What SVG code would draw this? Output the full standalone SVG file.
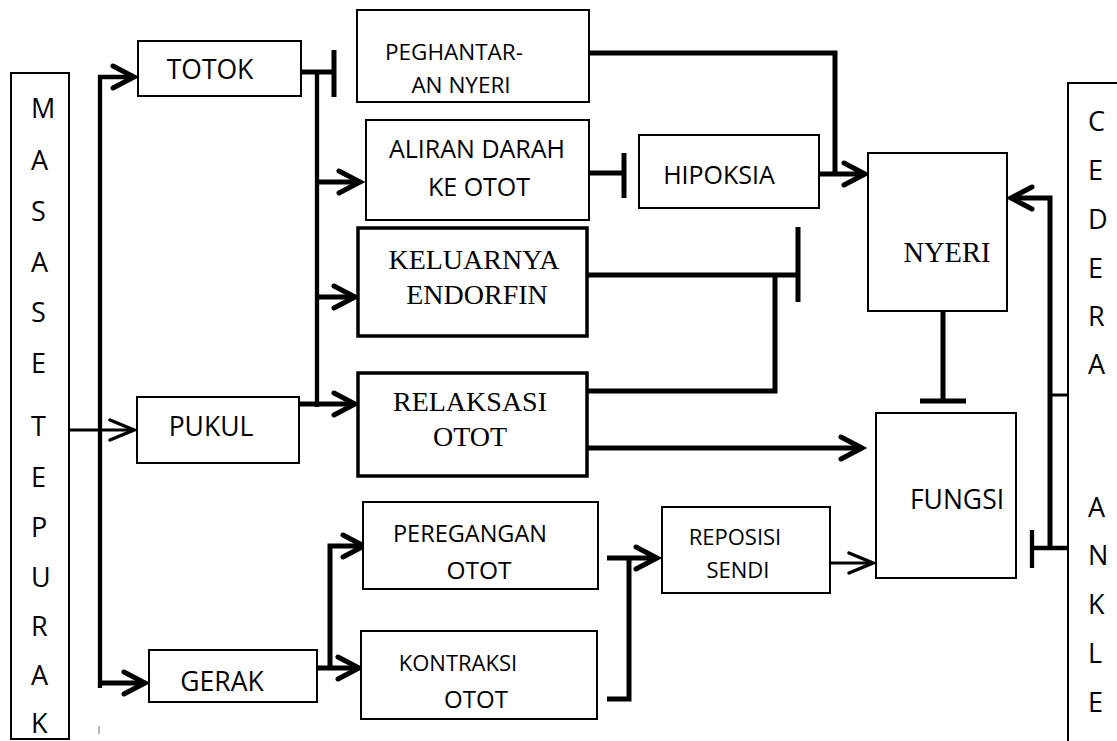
<svg xmlns="http://www.w3.org/2000/svg" width="1117" height="741" viewBox="0 0 1117 741">
<style>
.box{fill:#fff;stroke:#000;stroke-width:2}
.bold{fill:#fff;stroke:#000;stroke-width:3.5}
.sans{font-family:"Open Sans","Liberation Sans",sans-serif;fill:#000;text-anchor:middle}
.serif{font-family:"Liberation Serif","Times New Roman",serif;fill:#000;text-anchor:middle}
.col{font-family:"Open Sans","Liberation Sans",sans-serif;font-size:27px;fill:#000}
.c5{fill:none;stroke:#000;stroke-width:5}
.c4{fill:none;stroke:#000;stroke-width:4.3}
.c3{fill:none;stroke:#000;stroke-width:3}
.ah5{marker-end:url(#ahk)}
.ah3{marker-end:url(#aht)}
</style>
<defs>
<marker id="ahk" markerUnits="userSpaceOnUse" viewBox="-30 -20 40 40" refX="0" refY="0" markerWidth="40" markerHeight="40" orient="auto" overflow="visible">
<path d="M-21,-11 L0,0 L-21,11" fill="none" stroke="#000" stroke-width="5" stroke-linecap="round"/>
</marker>
<marker id="aht" markerUnits="userSpaceOnUse" viewBox="-30 -20 40 40" refX="0" refY="0" markerWidth="40" markerHeight="40" orient="auto" overflow="visible">
<path d="M-24,-10 L0,0 L-24,10" fill="none" stroke="#000" stroke-width="3.5" stroke-linecap="round"/>
</marker>
</defs>
<rect width="1117" height="741" fill="#fff"/>

<g id="connectors">
<path class="c4 ah5" d="M100,688 V77 H134"/>
<path class="c5 ah5" d="M100,683 H145"/>
<path class="c3 ah3" d="M69,430 H134"/>
<path d="M99,726 V734" stroke="#888" stroke-width="1.2"/>
<path class="c5" d="M301,72 H334 M334,50 V97"/>
<path class="c4" d="M317,72 V407"/>
<path class="c5 ah5" d="M317,182 H360"/>
<path class="c5 ah5" d="M317,297 H355"/>
<path class="c5 ah5" d="M299,404 H355"/>
<path class="c5" d="M589,53 H835 V174"/>
<path class="c5" d="M589,173 H624 M624,153 V198"/>
<path class="c5 ah5" d="M819,174 H865"/>
<path class="c5" d="M587,275 H798 M798,227 V302"/>
<path class="c5" d="M587,391 H775 V275"/>
<path class="c5 ah5" d="M580,448 H862"/>
<path class="c5" d="M943,311 V401 M920,401 H966"/>
<path class="c5 ah5" d="M1050,548 V198 H1011"/>
<path class="c3" d="M1050,395 H1068"/>
<path class="c4" d="M1068,548 H1032 M1032,530 V568"/>
<path class="c5 ah5" d="M317,668 H359"/>
<path class="c5 ah5" d="M330,668 V546 H364"/>
<path class="c5 ah5" d="M607,558 H657"/>
<path class="c5" d="M607,699 H629 V558"/>
<path class="c3 ah3" d="M830,563 H873"/>
</g>

<g id="masase-tepurak">
<rect class="box" x="11" y="73" width="58" height="666"/>
<text class="col" x="31" y="118">M</text>
<text class="col" x="31" y="170">A</text>
<text class="col" x="31" y="221">S</text>
<text class="col" x="31" y="272">A</text>
<text class="col" x="31" y="322">S</text>
<text class="col" x="31" y="373">E</text>
<text class="col" x="31" y="436">T</text>
<text class="col" x="31" y="487">E</text>
<text class="col" x="31" y="537">P</text>
<text class="col" x="31" y="587">U</text>
<text class="col" x="31" y="636">R</text>
<text class="col" x="31" y="685">A</text>
<text class="col" x="31" y="733">K</text>
</g>

<g id="totok">
<rect class="box" x="138" y="41" width="163" height="55"/>
<text class="sans" x="210" y="79" font-size="26.5">TOTOK</text>
</g>

<g id="pukul">
<rect class="box" x="137" y="397" width="162" height="66"/>
<text class="sans" x="211" y="436" font-size="26.5">PUKUL</text>
</g>

<g id="gerak">
<rect class="box" x="149" y="650" width="168" height="52"/>
<text class="sans" x="222" y="691" font-size="26.5">GERAK</text>
</g>

<g id="peghantaran">
<rect class="box" x="357" y="10" width="232" height="92"/>
<text class="sans" x="454" y="60" font-size="22.5">PEGHANTAR-</text>
<text class="sans" x="461" y="93" font-size="22.5">AN NYERI</text>
</g>

<g id="aliran">
<rect class="box" x="366" y="120" width="223" height="100"/>
<text class="sans" x="477" y="158" font-size="25">ALIRAN DARAH</text>
<text class="sans" x="479" y="196" font-size="25">KE OTOT</text>
</g>

<g id="hipoksia">
<rect class="box" x="639" y="135" width="180" height="73"/>
<text class="sans" x="719" y="184" font-size="25">HIPOKSIA</text>
</g>

<g id="keluarnya">
<rect class="bold" x="358" y="228" width="229" height="108"/>
<text class="serif" x="474" y="269" font-size="28">KELUARNYA</text>
<text class="serif" x="477" y="304" font-size="28">ENDORFIN</text>
</g>

<g id="relaksasi">
<rect class="bold" x="358" y="373" width="229" height="103"/>
<text class="serif" x="470" y="411" font-size="28">RELAKSASI</text>
<text class="serif" x="470" y="446" font-size="28">OTOT</text>
</g>

<g id="nyeri">
<rect class="box" x="868" y="153" width="139" height="158"/>
<text class="serif" x="947" y="262" font-size="28.5">NYERI</text>
</g>

<g id="fungsi">
<rect class="box" x="876" y="413" width="140" height="165"/>
<text class="sans" x="957" y="509" font-size="26.5">FUNGSI</text>
</g>

<g id="peregangan">
<rect class="box" x="363" y="502" width="235" height="87"/>
<text class="sans" x="470" y="542" font-size="23.5">PEREGANGAN</text>
<text class="sans" x="479" y="579" font-size="24.5">OTOT</text>
</g>

<g id="kontraksi">
<rect class="box" x="361" y="631" width="236" height="88"/>
<text class="sans" x="458" y="671" font-size="22">KONTRAKSI</text>
<text class="sans" x="476" y="708" font-size="24">OTOT</text>
</g>

<g id="reposisi">
<rect class="box" x="662" y="507" width="168" height="86"/>
<text class="sans" x="735" y="545" font-size="22">REPOSISI</text>
<text class="sans" x="738" y="578" font-size="22">SENDI</text>
</g>

<g id="cedera-ankle">
<rect class="box" x="1068" y="83" width="90" height="700"/>
<text class="col" x="1088" y="131">C</text>
<text class="col" x="1088" y="180">E</text>
<text class="col" x="1088" y="229">D</text>
<text class="col" x="1088" y="278">E</text>
<text class="col" x="1088" y="326">R</text>
<text class="col" x="1088" y="374">A</text>
<text class="col" x="1088" y="517">A</text>
<text class="col" x="1088" y="565">N</text>
<text class="col" x="1088" y="614">K</text>
<text class="col" x="1088" y="663">L</text>
<text class="col" x="1088" y="712">E</text>
</g>
</svg>
